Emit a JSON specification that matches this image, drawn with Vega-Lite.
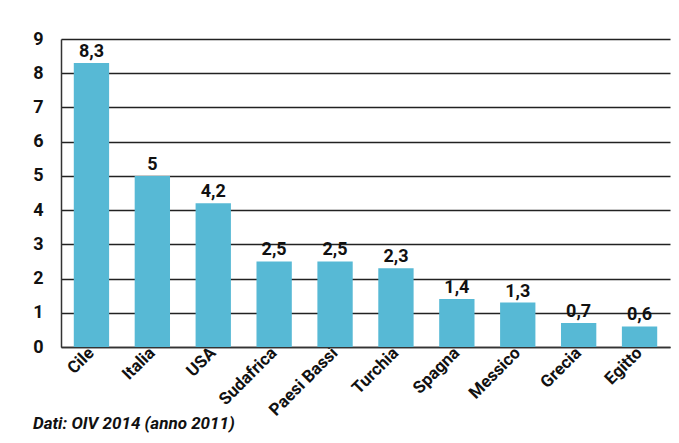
{
  "$schema": "https://vega.github.io/schema/vega-lite/v6.json",
  "width": 609,
  "height": 308,
  "autosize": "none",
  "padding": {"left": 61, "top": 39, "right": 9, "bottom": 96},
  "background": "white",
  "title": {
    "text": "Dati: OIV 2014 (anno 2011)",
    "orient": "bottom",
    "anchor": "start",
    "frame": "group",
    "dx": -28,
    "offset": -2,
    "font": "Roboto",
    "fontSize": 17,
    "fontWeight": "bold",
    "fontStyle": "italic",
    "color": "#111"
  },
  "data": {
    "values": [
      {"paese": "Cile", "valore": 8.3, "label": "8,3"},
      {"paese": "Italia", "valore": 5, "label": "5"},
      {"paese": "USA", "valore": 4.2, "label": "4,2"},
      {"paese": "Sudafrica", "valore": 2.5, "label": "2,5"},
      {"paese": "Paesi Bassi", "valore": 2.5, "label": "2,5"},
      {"paese": "Turchia", "valore": 2.3, "label": "2,3"},
      {"paese": "Spagna", "valore": 1.4, "label": "1,4"},
      {"paese": "Messico", "valore": 1.3, "label": "1,3"},
      {"paese": "Grecia", "valore": 0.7, "label": "0,7"},
      {"paese": "Egitto", "valore": 0.6, "label": "0,6"}
    ]
  },
  "encoding": {
    "x": {
      "field": "paese",
      "type": "nominal",
      "sort": null,
      "scale": {"paddingInner": 0.42, "paddingOuter": 0.21},
      "axis": {
        "title": null,
        "labelAngle": -45,
        "labelAlign": "right",
        "labelBaseline": "middle",
        "labelFont": "Roboto",
        "labelFontSize": 17,
        "labelFontWeight": "bold",
        "labelColor": "#111",
        "labelPadding": 3,
        "ticks": false,
        "domainColor": "#333",
        "domainWidth": 1.5
      }
    },
    "y": {
      "field": "valore",
      "type": "quantitative",
      "scale": {"domain": [0, 9]},
      "axis": {
        "title": null,
        "values": [0, 1, 2, 3, 4, 5, 6, 7, 8, 9],
        "labelFont": "Roboto",
        "labelFontSize": 18,
        "labelFontWeight": "bold",
        "labelColor": "#111",
        "labelPadding": 18,
        "ticks": false,
        "grid": true,
        "gridColor": "#222",
        "gridWidth": 1.5,
        "domainColor": "#333",
        "domainWidth": 1.5
      }
    }
  },
  "layer": [
    {"mark": {"type": "bar", "color": "#57B9D5"}},
    {
      "mark": {
        "type": "text",
        "baseline": "bottom",
        "dy": -2,
        "font": "Roboto",
        "fontSize": 18,
        "fontWeight": "bold",
        "color": "#111"
      },
      "encoding": {"text": {"field": "label"}}
    }
  ],
  "config": {"view": {"stroke": null}}
}
